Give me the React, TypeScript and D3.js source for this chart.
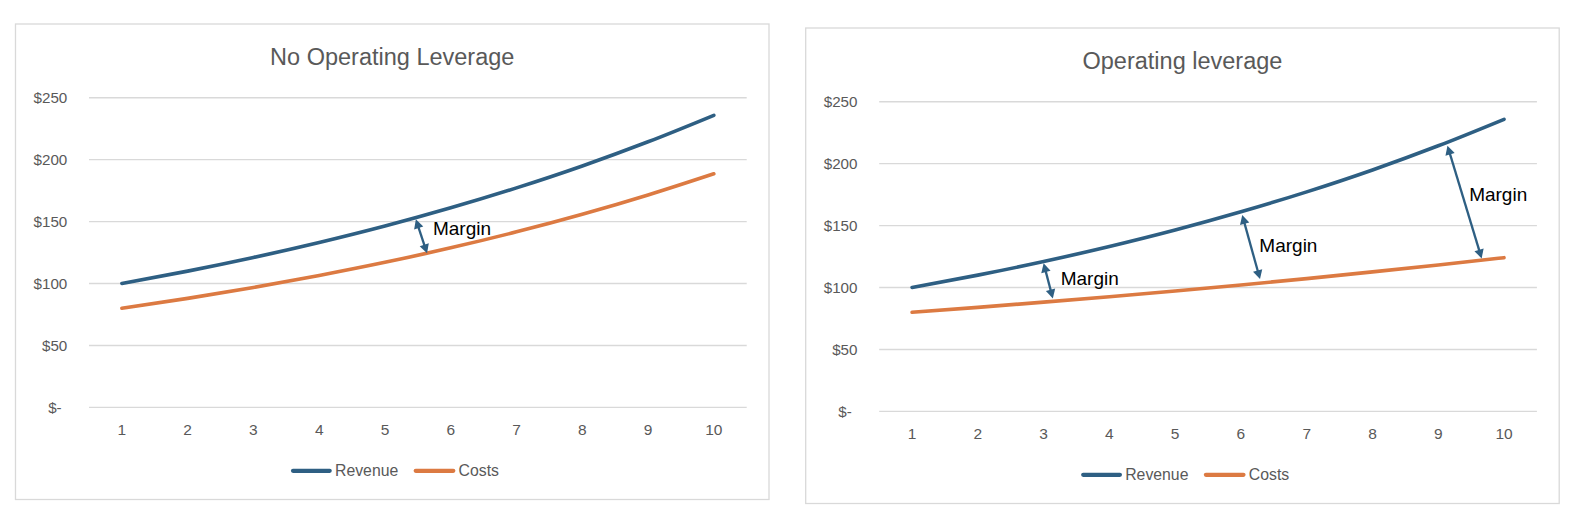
import { useEffect, useRef } from 'react';
import * as d3 from 'd3';

// values
const periods = [1, 2, 3, 4, 5, 6, 7, 8, 9, 10];
const revenue = [100, 110, 121, 133.1, 146.4, 161.1, 177.2, 194.9, 214.4, 235.8];
const costsNoLeverage = [80, 88, 96.8, 106.5, 117.1, 128.8, 141.7, 155.9, 171.5, 188.6];
const costsLeverage = [80, 84, 88.2, 92.6, 97.2, 102.1, 107.2, 112.6, 118.2, 124.1];
const yTicks = [0, 50, 100, 150, 200, 250];
const seriesNames = ['Revenue', 'Costs'];

interface MarginNote {
  x1: number; y1: number; // arrow start (period, $)
  x2: number; y2: number; // arrow end
  tx: number; ty: number; // label
}

const marginsNoLeverage: MarginNote[] = [
  { x1: 5.47, y1: 151.8, x2: 5.64, y2: 124.4, tx: 5.73, ty: 144.9 },
];

const marginsLeverage: MarginNote[] = [
  { x1: 3.0, y1: 119.5, x2: 3.14, y2: 91.2, tx: 3.26, ty: 107.4 },
  { x1: 6.02, y1: 158.5, x2: 6.29, y2: 106.8, tx: 6.28, ty: 133.7 },
  { x1: 9.14, y1: 214.5, x2: 9.66, y2: 123.5, tx: 9.47, ty: 175.2 },
];

const BLUE = '#2e5f83';
const ORANGE = '#dc7a42';
const GRID = '#d9d9d9';
const TEXT = '#595959';
const FONT = '"Liberation Sans", Arial, sans-serif';

interface ChartOpts {
  left: number;
  top: number;
  title: string;
  costs: number[];
  margins: MarginNote[];
}

function drawChart(root: d3.Selection<SVGSVGElement, unknown, null, undefined>, opts: ChartOpts) {
  const boxW = 753.5;
  const boxH = 475.5;
  const plot = { left: 73.5, right: 731.2, top: 73.7, bottom: 383.4 };

  const g = root.append('g').attr('transform', `translate(${opts.left},${opts.top})`);

  g.append('rect')
    .attr('width', boxW)
    .attr('height', boxH)
    .attr('fill', '#fff')
    .attr('stroke', GRID)
    .attr('stroke-width', 1.3);

  const x = d3.scaleLinear().domain([0.5, 10.5]).range([plot.left, plot.right]);
  const y = d3.scaleLinear().domain([0, 250]).range([plot.bottom, plot.top]);

  // title
  g.append('text')
    .attr('x', boxW / 2)
    .attr('y', 32.7)
    .attr('dy', '0.35em')
    .attr('text-anchor', 'middle')
    .attr('font-family', FONT)
    .attr('font-size', 23.5)
    .attr('fill', TEXT)
    .text(opts.title);

  // gridlines
  g.append('g')
    .selectAll('line')
    .data(yTicks)
    .join('line')
    .attr('x1', plot.left)
    .attr('x2', plot.right)
    .attr('y1', d => y(d))
    .attr('y2', d => y(d))
    .attr('stroke', GRID)
    .attr('stroke-width', 1.4);

  // y labels
  g.append('g')
    .selectAll('text')
    .data(yTicks)
    .join('text')
    .attr('x', d => plot.left - (d === 0 ? 27.3 : 21.7))
    .attr('y', d => y(d))
    .attr('dy', '0.35em')
    .attr('text-anchor', 'end')
    .attr('font-family', FONT)
    .attr('font-size', 15.2)
    .attr('fill', TEXT)
    .text(d => (d === 0 ? '$-' : `$${d}`));

  // x labels
  g.append('g')
    .selectAll('text')
    .data(periods)
    .join('text')
    .attr('x', d => x(d))
    .attr('y', plot.bottom + 22.6)
    .attr('dy', '0.35em')
    .attr('text-anchor', 'middle')
    .attr('font-family', FONT)
    .attr('font-size', 15.5)
    .attr('fill', TEXT)
    .text(d => String(d));

  const line = d3.line<number>()
    .x((_, i) => x(periods[i]))
    .y(d => y(d))
    .curve(d3.curveMonotoneX);

  [revenue, opts.costs].forEach((series, i) => {
    g.append('path')
      .datum(series)
      .attr('fill', 'none')
      .attr('stroke', i === 0 ? BLUE : ORANGE)
      .attr('stroke-width', 3.6)
      .attr('stroke-linecap', 'round')
      .attr('stroke-linejoin', 'round')
      .attr('d', line);
  });

  // margin arrows
  opts.margins.forEach(m => {
    const p1: [number, number] = [x(m.x1), y(m.y1)];
    const p2: [number, number] = [x(m.x2), y(m.y2)];
    const len = Math.hypot(p2[0] - p1[0], p2[1] - p1[1]);
    const ux = (p2[0] - p1[0]) / len;
    const uy = (p2[1] - p1[1]) / len;
    const head = 9;
    const half = 4.8;
    const tri = (tip: [number, number], dx: number, dy: number) => {
      const bx = tip[0] - dx * head;
      const by = tip[1] - dy * head;
      return `M${tip[0]},${tip[1]}L${bx - dy * half},${by + dx * half}L${bx + dy * half},${by - dx * half}Z`;
    };
    g.append('line')
      .attr('x1', p1[0] + ux * 6)
      .attr('y1', p1[1] + uy * 6)
      .attr('x2', p2[0] - ux * 6)
      .attr('y2', p2[1] - uy * 6)
      .attr('stroke', BLUE)
      .attr('stroke-width', 2.3);
    g.append('path').attr('d', tri(p1, -ux, -uy)).attr('fill', BLUE);
    g.append('path').attr('d', tri(p2, ux, uy)).attr('fill', BLUE);

    g.append('text')
      .attr('x', x(m.tx))
      .attr('y', y(m.ty))
      .attr('dy', '0.35em')
      .attr('font-family', FONT)
      .attr('font-size', 19)
      .attr('fill', '#000')
      .text('Margin');
  });

  // legend
  const legendY = 446.8;
  const legendItems = [
    { name: seriesNames[0], color: BLUE, x0: 275.5, x1: 316.2 },
    { name: seriesNames[1], color: ORANGE, x0: 398.2, x1: 439.8 },
  ];
  const lg = g.append('g');
  legendItems.forEach(item => {
    lg.append('line')
      .attr('x1', item.x0 + 2)
      .attr('x2', item.x1 - 2)
      .attr('y1', legendY)
      .attr('y2', legendY)
      .attr('stroke', item.color)
      .attr('stroke-width', 4.2)
      .attr('stroke-linecap', 'round');
    lg.append('text')
      .attr('x', item.x1 + 3.3)
      .attr('y', legendY)
      .attr('dy', '0.35em')
      .attr('font-family', FONT)
      .attr('font-size', 15.8)
      .attr('fill', TEXT)
      .text(item.name);
  });
}

export default function App() {
  const svgRef = useRef<SVGSVGElement>(null);

  useEffect(() => {
    if (!svgRef.current) return;
    const svg = d3.select(svgRef.current);
    svg.selectAll('*').remove();

    drawChart(svg, {
      left: 15.5,
      top: 24,
      title: 'No Operating Leverage',
      costs: costsNoLeverage,
      margins: marginsNoLeverage,
    });
    drawChart(svg, {
      left: 805.7,
      top: 28,
      title: 'Operating leverage',
      costs: costsLeverage,
      margins: marginsLeverage,
    });
  }, []);

  return (
    <svg
      ref={svgRef}
      width={1584}
      height={528}
      style={{ position: 'absolute', left: 0, top: 0, background: '#fff' }}
    />
  );
}
